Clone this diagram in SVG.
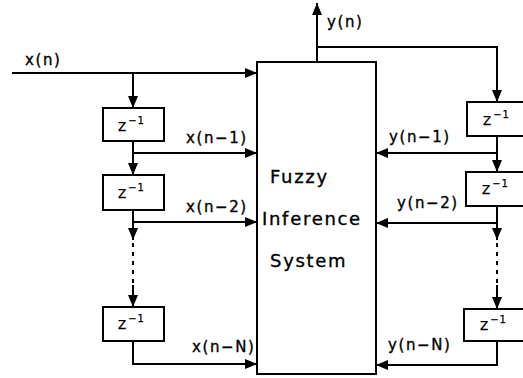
<svg xmlns="http://www.w3.org/2000/svg" width="523" height="378" viewBox="0 0 523 378">
<defs>
<marker id="ah" viewBox="0 0 12 10" refX="12" refY="5" markerWidth="12" markerHeight="10" markerUnits="userSpaceOnUse" orient="auto">
<path d="M0,0 L12,5 L0,10 Z" fill="#000"/>
</marker>
<style>
.ar{fill:none;stroke:#000;stroke-width:2;marker-end:url(#ah)}
.dt{fill:none;stroke:#000;stroke-width:2;stroke-dasharray:4,5}
.bx{fill:#fff;stroke:#000;stroke-width:2}
.lb{font-family:"DejaVu Sans",sans-serif;font-size:15px;letter-spacing:1.6px;fill:#000;stroke:#000;stroke-width:0.35}
.big{font-family:"DejaVu Sans",sans-serif;font-size:18px;letter-spacing:1.7px;fill:#000;stroke:#000;stroke-width:0.35}
.z{font-family:"DejaVu Sans",sans-serif;font-size:12px;fill:#000;stroke:#000;stroke-width:0.25}
.sup{font-size:10px;letter-spacing:1px}
</style>
</defs>
<g id="connectors">
<path class="ar" d="M12,73 H257"/>
<path class="ar" d="M133,73 V108"/>
<path class="ar" d="M133,141 V175"/>
<path class="ar" d="M133,153 H257"/>
<path class="ar" d="M133,210 V240"/>
<path class="ar" d="M133,222 H257"/>
<path class="dt" d="M133,243 V290"/>
<path class="ar" d="M133,285 V307"/>
<path class="ar" d="M133,341 V364 H257"/>
<path class="ar" d="M317,62 V3"/>
<path class="ar" d="M317,47 H497 V102"/>
<path class="ar" d="M497,136 V172"/>
<path class="ar" d="M497,153 H376"/>
<path class="ar" d="M497,206 V240"/>
<path class="ar" d="M497,223 H376"/>
<path class="dt" d="M497,243 V290"/>
<path class="ar" d="M497,285 V309"/>
<path class="ar" d="M497,341 V365 H376"/>
</g>
<g id="fis">
<rect class="bx" x="257" y="62" width="119" height="312"/>
<text class="big" x="270" y="183">Fuzzy</text>
<text class="big" x="262" y="225">Inference</text>
<text class="big" x="270" y="267">System</text>
</g>
<g id="zx1"><rect class="bx" x="103" y="108" width="61" height="33"/><text class="z" x="118" y="131">Z<tspan class="sup" dx="2" dy="-7">−1</tspan></text></g>
<g id="zx2"><rect class="bx" x="103" y="175" width="61" height="35"/><text class="z" x="118" y="198">Z<tspan class="sup" dx="2" dy="-7">−1</tspan></text></g>
<g id="zx3"><rect class="bx" x="103" y="307" width="61" height="34"/><text class="z" x="118" y="329">Z<tspan class="sup" dx="2" dy="-7">−1</tspan></text></g>
<g id="zy1"><rect class="bx" x="467" y="102" width="66" height="34"/><text class="z" x="483" y="125">Z<tspan class="sup" dx="2" dy="-7">−1</tspan></text></g>
<g id="zy2"><rect class="bx" x="466" y="172" width="66" height="34"/><text class="z" x="482" y="194">Z<tspan class="sup" dx="2" dy="-7">−1</tspan></text></g>
<g id="zy3"><rect class="bx" x="464" y="309" width="66" height="32"/><text class="z" x="480" y="330">Z<tspan class="sup" dx="2" dy="-7">−1</tspan></text></g>
<g id="labels">
<text class="lb" x="25" y="65">x(n)</text>
<text class="lb" x="186" y="143">x(n−1)</text>
<text class="lb" x="186" y="212">x(n−2)</text>
<text class="lb" x="192" y="352">x(n−N)</text>
<text class="lb" x="327" y="27">y(n)</text>
<text class="lb" x="389" y="142">y(n−1)</text>
<text class="lb" x="397" y="208">y(n−2)</text>
<text class="lb" x="388" y="350">y(n−N)</text>
</g>
</svg>
